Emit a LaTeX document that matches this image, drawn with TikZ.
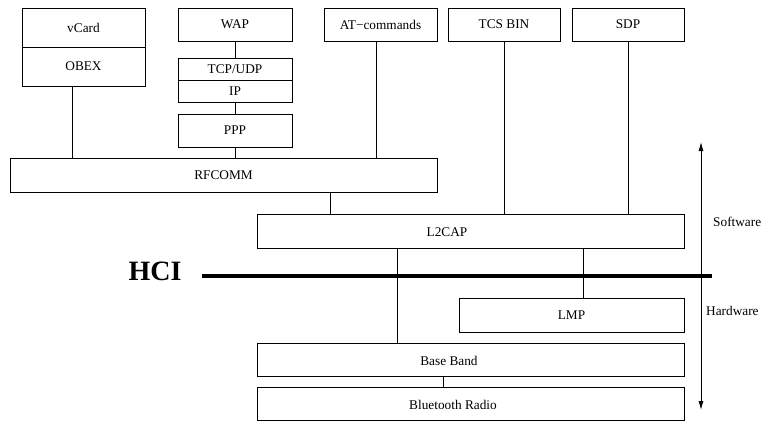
\documentclass[tikz,border=0pt]{standalone}
\usepackage{fontspec}
\setmainfont{Liberation Serif}
\usetikzlibrary{arrows.meta}
\begin{document}
\begin{tikzpicture}[x=1pt,y=-1pt,
  box/.style={draw, line width=0.8pt, rectangle, inner sep=0pt, font=\fontsize{13.3}{16}\selectfont},
  conn/.style={line width=0.8pt},
  lbl/.style={inner sep=0pt, font=\fontsize{13.3}{16}\selectfont}]
\useasboundingbox (0,0) rectangle (761,421);
% top stacks
\node[box, minimum width=123pt, minimum height=39pt] (vcard) at (83.5,27.5) {vCard};
\node[box, minimum width=123pt, minimum height=39pt] (obex) at (83.5,66.5) {OBEX};
\node[box, minimum width=114pt, minimum height=33pt] (wap) at (235,24.5) {WAP};
\node[box, minimum width=114pt, minimum height=22pt] (tcp) at (235,69) {TCP/UDP};
\node[box, minimum width=114pt, minimum height=22pt] (ip) at (235,91) {IP};
\node[box, minimum width=114pt, minimum height=33pt] (ppp) at (235,130.5) {PPP};
\node[box, minimum width=113pt, minimum height=33pt] (at) at (380.5,24.5) {AT{\char"2212}commands};
\node[box, minimum width=112pt, minimum height=33pt] (tcs) at (504,24.5) {TCS BIN};
\node[box, minimum width=112pt, minimum height=33pt] (sdp) at (628,24.5) {SDP};
\node[box, minimum width=427pt, minimum height=34pt] (rfcomm) at (223.5,175) {RFCOMM};
% lower stack
\node[box, minimum width=427pt, minimum height=34pt] (l2cap) at (470.5,231) {};
\node[lbl] (l2capt) at (447,232) {L2CAP};
\node[box, minimum width=225pt, minimum height=34pt] (lmp) at (571.5,315) {LMP};
\node[box, minimum width=427pt, minimum height=33pt] (bb) at (470.5,359.5) {};
\node[lbl] (bbt) at (449,361) {Base Band};
\node[box, minimum width=427pt, minimum height=33pt] (radio) at (470.5,403.5) {};
\node[lbl] (radiot) at (453,405) {Bluetooth Radio};
% helper x-positions
\coordinate (x72) at (72,0);
\coordinate (x376) at (376,0);
\coordinate (x330) at (330,0);
\coordinate (x397) at (397,0);
\coordinate (x583) at (583,0);
\coordinate (x443) at (443,0);
% connectors
\draw[conn] (obex.south -| x72) -- (rfcomm.north -| x72);
\draw[conn] (wap.south) -- (tcp.north);
\draw[conn] (ip.south) -- (ppp.north);
\draw[conn] (ppp.south) -- (rfcomm.north -| ppp.south);
\draw[conn] (at.south -| x376) -- (rfcomm.north -| x376);
\draw[conn] (tcs.south) -- (l2cap.north -| tcs.south);
\draw[conn] (sdp.south) -- (l2cap.north -| sdp.south);
\draw[conn] (rfcomm.south -| x330) -- (l2cap.north -| x330);
\draw[conn] (l2cap.south -| x397) -- (bb.north -| x397);
\draw[conn] (l2cap.south -| x583) -- (lmp.north -| x583);
\draw[conn] (bb.south -| x443) -- (radio.north -| x443);
% HCI
\coordinate (hciA) at (202,276);
\coordinate (hciB) at (712,276);
\draw[line width=4pt] (hciA) -- (hciB);
\node[inner sep=0pt, font=\fontsize{28}{32}\selectfont\bfseries] (hci) at (155,271) {HCI};
% software/hardware arrow
\coordinate (arrTop) at (701,142);
\coordinate (arrBot) at (701,410);
\draw[conn, {Latex[length=9pt,width=5pt]}-{Latex[length=9pt,width=5pt]}] (arrBot) -- (arrTop);
\node[lbl, anchor=west] (sw) at (713,222) {Software};
\node[lbl, anchor=west] (hw) at (706,311) {Hardware};
\end{tikzpicture}
\end{document}
